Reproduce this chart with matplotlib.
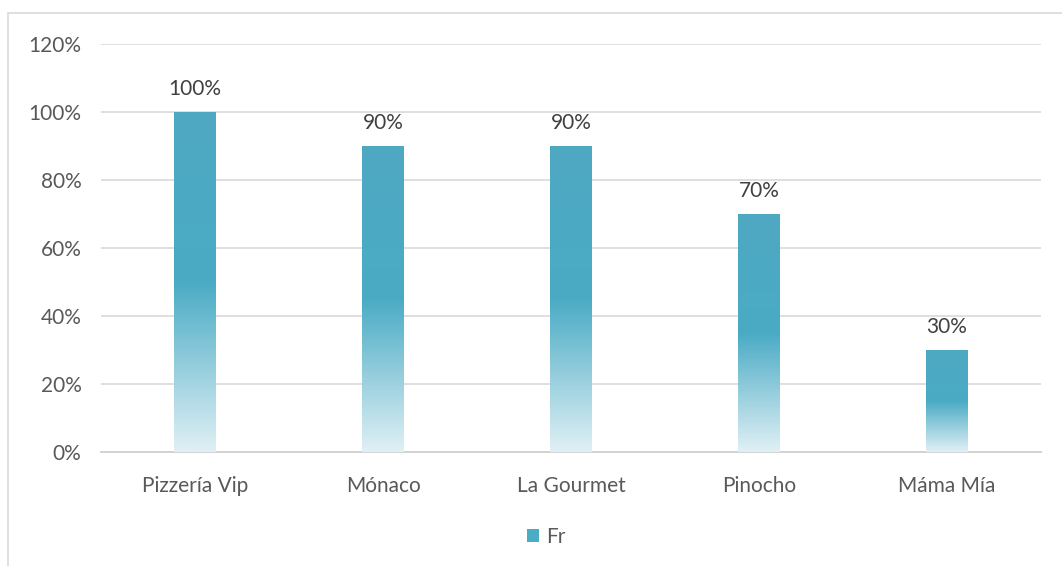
import numpy as np
import matplotlib
matplotlib.use("Agg")
import matplotlib.pyplot as plt
from matplotlib.colors import LinearSegmentedColormap
from matplotlib.patches import Rectangle, Patch

# datos
categorias = ["Pizzería Vip", "Mónaco", "La Gourmet", "Pinocho", "Máma Mía"]
valores = [1.00, 0.90, 0.90, 0.70, 0.30]
etiquetas = ["100%", "90%", "90%", "70%", "30%"]
yticks = [0, 0.2, 0.4, 0.6, 0.8, 1.0, 1.2]
ytick_labels = ["0%", "20%", "40%", "60%", "80%", "100%", "120%"]
serie = "Fr"

plt.rcParams["font.family"] = ["Lato", "DejaVu Sans"]

fig = plt.figure(figsize=(10.62, 5.66), dpi=100)
W, H = 1062, 566
ax = fig.add_axes([101 / W, 1 - 452 / H, 940 / W, (452 - 44) / H])

# borde del grafico
fig.patches.append(Rectangle((8 / W, -0.1), 1.2, 1 - 13 / H + 0.1,
                             transform=fig.transFigure, fill=False,
                             edgecolor="#D9D9D9", linewidth=1.2))

cmap = LinearSegmentedColormap.from_list(
    "grad", [(0.0, "#E0F0F5"), (0.5, "#4AABC5"), (1.0, "#4FA8C2")])
grad = np.linspace(0, 1, 256).reshape(-1, 1)

x = np.arange(len(categorias))
barras = ax.bar(x, valores, width=0.22, color="none", zorder=3)
for b in barras:
    x0, w, h = b.get_x(), b.get_width(), b.get_height()
    im = ax.imshow(grad, cmap=cmap, origin="lower", aspect="auto",
                   extent=[x0, x0 + w, 0, h], zorder=3)
    im.set_clip_path(b)

for xi, v, t in zip(x, valores, etiquetas):
    ax.text(xi, v + 0.037, t, ha="center", va="bottom", fontsize=15, color="#404040")

ax.set_xlim(-0.5, len(categorias) - 0.5)
ax.set_ylim(0, 1.2)
ax.set_yticks(yticks)
ax.set_yticklabels(ytick_labels)
ax.set_xticks(x)
ax.set_xticklabels(categorias)
ax.tick_params(length=0, labelsize=15, labelcolor="#595959")
ax.tick_params(axis="x", pad=17)
ax.tick_params(axis="y", pad=14)
ax.grid(axis="y", color="#D9D9D9", linewidth=1.2, zorder=0)
for s in ["top", "right", "left"]:
    ax.spines[s].set_visible(False)
ax.spines["bottom"].set_color("#D0D0D0")
ax.spines["bottom"].set_linewidth(1.3)

fig.legend(handles=[Patch(facecolor="#4BACC6", label=serie)], loc="center",
           bbox_to_anchor=(546 / W, 1 - 537 / H), frameon=False, fontsize=15,
           handlelength=0.6, handleheight=0.6, handletextpad=0.3,
           labelcolor="#595959")

fig.savefig("out.png", dpi=100)
